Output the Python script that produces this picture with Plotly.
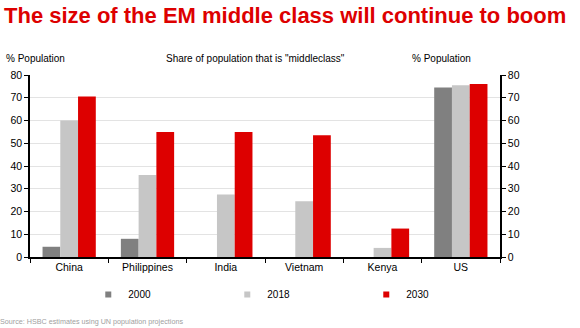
import plotly.graph_objects as go

categories = ["China", "Philippines", "India", "Vietnam", "Kenya", "US"]
v2000 = [4.5, 8, 0, 0, 0, 74.5]
v2018 = [60, 36, 27.5, 24.5, 4, 75.5]
v2030 = [70.5, 55, 55, 53.5, 12.5, 76]
series = [("2000", v2000, "#808080"), ("2018", v2018, "#C6C6C6"), ("2030", v2030, "#DD0000")]
yticks = [0, 10, 20, 30, 40, 50, 60, 70, 80]

FONT = "Liberation Sans, Arial, sans-serif"

fig = go.Figure()
for name, vals, col in series:
    fig.add_trace(go.Bar(x=categories, y=vals, name=name, marker_color=col,
                         marker_line_width=0, showlegend=False))
# legend entries with small square markers
for name, vals, col in series:
    fig.add_trace(go.Scatter(x=[None], y=[None], name=name, mode="markers",
                             marker=dict(symbol="square", size=6, color=col)))
# invisible trace to anchor the right axis
fig.add_trace(go.Scatter(x=categories, y=v2030, yaxis="y2", mode="markers",
                         marker_opacity=0, showlegend=False, hoverinfo="skip"))

axis_common = dict(range=[0, 80], tickvals=yticks, showline=True, linecolor="black",
                   linewidth=1.5, ticks="outside", ticklen=4, tickcolor="black",
                   tickfont=dict(size=10.5, color="black", family=FONT))
fig.update_layout(
    width=580, height=328,
    margin=dict(l=30, r=80, t=75, b=71, autoexpand=False),
    paper_bgcolor="white", plot_bgcolor="white",
    barmode="group", bargap=0.32, bargroupgap=0,
    font=dict(family=FONT, color="black"),
    xaxis=dict(type="category", tickson="boundaries", ticks="outside", ticklen=4,
               tickcolor="black", showline=True, linecolor="black", linewidth=1.5,
               tickfont=dict(size=10.5, family=FONT, color="black"), showgrid=False),
    yaxis=dict(**axis_common, showgrid=True, gridcolor="#E3E3E3", gridwidth=1, zeroline=False),
    yaxis2=dict(**axis_common, overlaying="y", side="right", showgrid=False, zeroline=False),
    legend=dict(orientation="h", x=0.124, y=-0.126, xanchor="left", yanchor="top",
                entrywidth=94, font=dict(size=10, family=FONT),
                itemwidth=30, traceorder="normal"),
    showlegend=True,
)
fig.add_annotation(text="<b>The size of the EM middle class will continue to boom</b>",
                   xref="paper", yref="paper", x=0, y=1, xanchor="left", yanchor="middle",
                   font=dict(size=22, color="#DD0000", family=FONT), showarrow=False,
                   xshift=-28, yshift=75 - 15)
fig.add_annotation(text='Share of population that is "middleclass"', xref="paper", yref="paper",
                   x=0.5, y=1, xanchor="center", yanchor="middle", yshift=17,
                   xshift=-10, font=dict(size=10, family=FONT), showarrow=False)
fig.add_annotation(text="% Population", xref="paper", yref="paper", x=0, y=1,
                   xanchor="left", yanchor="middle", xshift=-26, yshift=17,
                   font=dict(size=10, family=FONT), showarrow=False)
fig.add_annotation(text="% Population", xref="paper", yref="paper", x=1, y=1,
                   xanchor="left", yanchor="middle", xshift=-90, yshift=17,
                   font=dict(size=10, family=FONT), showarrow=False)
fig.add_annotation(text="Source: HSBC estimates using UN population projections",
                   xref="paper", yref="paper", x=0, y=0, xanchor="left", yanchor="middle",
                   xshift=-32, yshift=-64, font=dict(size=7.2, color="#A0A0A0", family=FONT),
                   showarrow=False)
fig.write_html("out.html")
